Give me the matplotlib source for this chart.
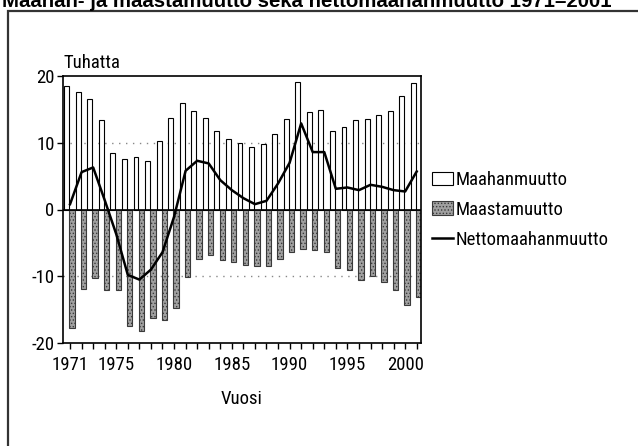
import matplotlib
matplotlib.use("Agg")
import matplotlib.pyplot as plt
from matplotlib import font_manager as fm
from matplotlib.patches import Patch, Rectangle
from matplotlib.lines import Line2D
import numpy as np

years = list(range(1971, 2002))
immigration = [18.5, 17.6, 16.6, 13.4, 8.4, 7.6, 7.8, 7.3, 10.2, 13.7,
               15.9, 14.8, 13.7, 11.8, 10.6, 10.0, 9.3, 9.8, 11.3, 13.6,
               19.1, 14.6, 14.9, 11.7, 12.3, 13.4, 13.6, 14.2, 14.8, 17.0, 19.0]
emigration = [-17.7, -11.9, -10.2, -12.0, -12.1, -17.4, -18.2, -16.3, -16.6, -14.8,
              -10.1, -7.4, -6.8, -7.5, -7.8, -8.3, -8.5, -8.5, -7.4, -6.4,
              -5.9, -6.0, -6.4, -8.7, -9.0, -10.6, -9.9, -10.9, -12.0, -14.3, -13.1]
net = [0.8, 5.6, 6.3, 1.4, -3.7, -9.8, -10.5, -9.0, -6.4, -1.1,
       5.8, 7.3, 6.9, 4.4, 2.9, 1.7, 0.8, 1.3, 3.9, 7.0,
       12.9, 8.6, 8.6, 3.1, 3.3, 2.9, 3.7, 3.4, 2.9, 2.7, 5.7]

tick_labels = {1971: '1971', 1975: '1975', 1980: '1980', 1985: '1985',
               1990: '1990', 1995: '1995', 2000: '2000'}
y_ticks = [-20, -10, 0, 10, 20]
labels = ['Maahanmuutto', 'Maastamuutto', 'Nettomaahanmuutto']
title = 'Maahan- ja maastamuutto sekä nettomaahanmuutto 1971–2001'

# choose a narrow font if one is installed
names = {f.name for f in fm.fontManager.ttflist}
stretch = 'normal'
if 'Liberation Sans Narrow' in names:
    fam = 'Liberation Sans Narrow'
elif 'Roboto Condensed' in names:
    fam = 'Roboto Condensed'
elif any(f.name == 'DejaVu Sans' and f.stretch not in ('normal', 500)
         for f in fm.fontManager.ttflist):
    fam = 'DejaVu Sans'
    stretch = 'condensed'
else:
    fam = 'Liberation Sans'
plt.rcParams['font.family'] = [fam, 'DejaVu Sans']
plt.rcParams['font.stretch'] = stretch
plt.rcParams['axes.unicode_minus'] = False
plt.rcParams['hatch.linewidth'] = 0.6
FS = 13.5 if fam != 'Liberation Sans' else 12

W, H = 638, 446
fig = plt.figure(figsize=(W / 100, H / 100), dpi=100)
ax = fig.add_axes([63 / W, 1 - 343 / H, (421 - 63) / W, (343 - 76) / H])

x = np.array(years, dtype=float)
grey = '#a0a0a0'
ax.bar(x - 0.29, immigration, width=0.42, color='white', edgecolor='black',
       linewidth=0.8, zorder=2)
ax.bar(x + 0.17, emigration, width=0.46, color=grey, edgecolor='#3a3a3a',
       hatch='.....', linewidth=0.8, zorder=2)
ax.plot(x, net, color='black', linewidth=1.8, zorder=4)

ax.axhline(0, color='black', linewidth=1.2, zorder=3)
for g in (10, -10):
    ax.axhline(g, color='#888888', linewidth=1.0, linestyle=(0, (1, 4)), zorder=1)

ax.set_xlim(1970.39, 2001.37)
ax.set_ylim(-20, 20)
ax.set_yticks(y_ticks)
ax.set_yticklabels([str(v) for v in y_ticks])
ax.set_xticks(years)
ax.set_xticklabels([tick_labels.get(y, '') for y in years])
ax.tick_params(axis='both', labelsize=FS, length=4, width=1.0, color='black')
ax.tick_params(axis='x', pad=5)
ax.tick_params(axis='y', pad=2)
for s in ax.spines.values():
    s.set_linewidth(1.2)
ax.set_xlabel('Vuosi', fontsize=FS, labelpad=12)
ax.text(0.0, 1.048, 'Tuhatta', transform=ax.transAxes, ha='left', va='center',
        fontsize=FS)

handles = [Patch(facecolor='white', edgecolor='black', linewidth=0.8),
           Patch(facecolor=grey, edgecolor='#3a3a3a', hatch='.....', linewidth=0.8),
           Line2D([0], [0], color='black', linewidth=1.8)]
fig.legend(handles, labels, loc='upper left',
           bbox_to_anchor=(432 / W, 1 - 171 / H), frameon=False,
           fontsize=FS, handlelength=1.1, handleheight=0.75,
           handletextpad=0.15, labelspacing=0.63, borderpad=0, borderaxespad=0)

fig.patches.append(Rectangle((7.5 / W, -0.5), 2.0, 1.5 - 11 / H,
                             transform=fig.transFigure, fill=False,
                             edgecolor='#333333', linewidth=1.6))
fig.text(0.003, 1 - 7 / H, title, ha='left', va='baseline', fontsize=14.7,
         fontweight='bold', fontstretch='normal',
         family=['Liberation Sans', 'DejaVu Sans'])

fig.savefig('out.png', dpi=100)
